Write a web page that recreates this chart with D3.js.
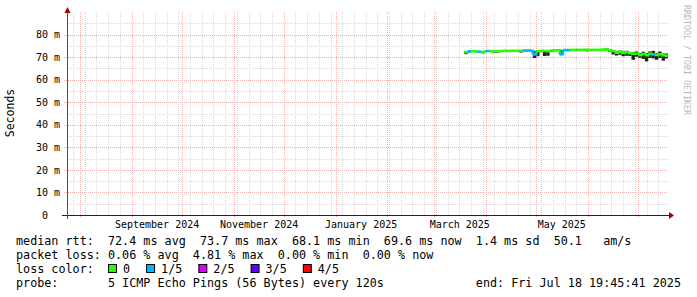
<!DOCTYPE html>
<html>
<head>
<meta charset="utf-8">
<script src="https://cdn.jsdelivr.net/npm/d3@7"></script>
<style>
  body { margin: 0; background: #fff; }
  text { font-family: "DejaVu Sans Mono", monospace; }
</style>
</head>
<body>
<svg id="chart"></svg>
<script>
// time window of the graph
let graphStart = new Date(2024, 6, 23, 19, 45, 41);
let graphEnd = new Date(2025, 6, 18, 19, 45, 41);

// samples, one every 2 days from this date
let sampleFirst = new Date(2025, 2, 18);

// median rtt (ms) per sample
let medianMs = [72.2, 72.6, 72.6, 72.5, 72.4, 72.1, 72.6, 72.7, 72.6, 72.5,
  72.5, 72.7, 72.8, 72.7, 72.8, 72.8, 72.8, 72.8, 72.9, 72.9,
  72.8, 71.2, 72.6, 72.8, 72.7, 72.6, 72.9, 73.0, 73.0, 71.4,
  73.1, 73.1, 73.2, 73.2, 73.2, 73.2, 73.2, 73.1, 73.2, 73.2,
  73.2, 73.2, 73.3, 73.5, 72.9, 72.6, 72.0, 72.3, 71.9, 72.2,
  71.7, 71.5, 71.6, 71.0, 71.4, 70.9, 71.5, 71.2, 71.0, 71.3,
  70.8, 70.6];

// smoke (lowest / highest ping) per sample
let smokeLoMs = [71.3, 72.0, 72.3, 72.2, 72.0, 71.9, 72.3, 72.4, 72.3, 71.9,
  72.0, 72.4, 72.5, 72.4, 72.5, 72.5, 72.5, 72.0, 72.6, 72.6,
  72.5, 69.6, 70.4, 72.2, 70.5, 70.6, 72.3, 72.7, 72.7, 70.8,
  72.8, 72.8, 72.9, 72.9, 72.9, 72.9, 72.9, 72.5, 72.9, 72.9,
  72.9, 72.9, 73.0, 73.0, 72.3, 71.2, 70.7, 71.0, 70.4, 70.6,
  70.5, 68.8, 70.2, 69.7, 69.2, 68.1, 69.6, 69.4, 68.8, 69.6,
  68.4, 69.4];
let smokeHiMs = [72.6, 72.9, 72.9, 72.8, 72.7, 72.5, 72.9, 73.0, 72.9, 72.8,
  72.8, 73.0, 73.1, 73.0, 73.1, 73.1, 73.1, 73.1, 73.2, 73.2,
  73.1, 72.8, 72.9, 73.1, 73.0, 72.9, 73.2, 73.3, 73.3, 73.2,
  73.4, 73.4, 73.5, 73.5, 73.5, 73.5, 73.5, 73.4, 73.5, 73.5,
  73.5, 73.5, 73.6, 73.9, 73.3, 73.0, 72.6, 72.9, 72.5, 72.8,
  72.3, 72.2, 72.5, 71.8, 72.4, 71.8, 72.5, 72.8, 71.9, 72.5,
  71.6, 71.6];

// lost pings (of 5) per sample
let lossCount = [0, 1, 0, 0, 1, 0, 0, 1, 0, 0,
  0, 0, 0, 0, 0, 0, 0, 0, 1, 1,
  1, 1, 0, 0, 0, 0, 0, 0, 0, 1,
  1, 1, 0, 0, 0, 0, 0, 0, 0, 0,
  0, 0, 0, 0, 0, 0, 0, 0, 0, 0,
  0, 0, 0, 0, 0, 0, 0, 1, 0, 0,
  0, 0];

let lossLabels = ["0", "1/5", "2/5", "3/5", "4/5"];
let lossColors = ["#26ff00", "#00b8ff", "#dd00ff", "#5e00ff", "#ff0000"];

let yTickValues = [0, 10, 20, 30, 40, 50, 60, 70, 80];
let monthLabels = [new Date(2024, 8, 1), new Date(2024, 10, 1), new Date(2025, 0, 1),
  new Date(2025, 2, 1), new Date(2025, 4, 1)];

let legendLines = [
  "median rtt:  72.4 ms avg  73.7 ms max  68.1 ms min  69.6 ms now  1.4 ms sd  50.1   am/s",
  "packet loss: 0.06 % avg  4.81 % max  0.00 % min  0.00 % now",
  "loss color:",
  "probe:       5 ICMP Echo Pings (56 Bytes) every 120s"
];
let endText = "end: Fri Jul 18 19:45:41 2025";

let W = 697, H = 297;
let plot = { left: 66, right: 668, top: 12, bottom: 215 };

let svg = d3.select("#chart").attr("width", W).attr("height", H);
svg.append("rect").attr("width", W).attr("height", H).attr("fill", "#fff");

let x = d3.scaleTime().domain([graphStart, graphEnd]).range([plot.left, plot.right]);
let y = d3.scaleLinear().domain([0, 90]).range([plot.bottom, plot.top]);

let dates = d3.timeDay.every(2).range(sampleFirst, graphEnd).slice(0, medianMs.length);
let samples = dates.map(function(d, i) {
  let next = i < dates.length - 1 ? dates[i + 1] : graphEnd;
  return { t0: d, t1: next, med: medianMs[i], lo: smokeLoMs[i], hi: smokeHiMs[i], loss: lossCount[i],
           nextMed: i < dates.length - 1 ? medianMs[i + 1] : medianMs[i] };
});

// grid
let minorColor = "#d9d9d9", majorColor = "#efb3b3";
let grid = svg.append("g");
y.ticks(18).filter(function(v) { return v % 10 != 0 && v < 90; }).forEach(function(v) {
  grid.append("line").attr("x1", plot.left + 1).attr("x2", plot.right)
    .attr("y1", Math.round(y(v)) + 0.5).attr("y2", Math.round(y(v)) + 0.5)
    .attr("stroke", minorColor).attr("stroke-dasharray", "1,1");
});
d3.timeWeek.range(graphStart, graphEnd).forEach(function(d) {
  grid.append("line").attr("x1", Math.round(x(d)) + 0.5).attr("x2", Math.round(x(d)) + 0.5)
    .attr("y1", plot.bottom).attr("y2", plot.top)
    .attr("stroke", minorColor).attr("stroke-dasharray", "1,1");
});
yTickValues.filter(function(v) { return v > 0; }).forEach(function(v) {
  grid.append("line").attr("x1", plot.left - 2).attr("x2", plot.right)
    .attr("y1", Math.round(y(v)) + 0.5).attr("y2", Math.round(y(v)) + 0.5)
    .attr("stroke", majorColor).attr("stroke-dasharray", "1,1");
});
d3.timeMonth.range(graphStart, graphEnd).forEach(function(d) {
  grid.append("line").attr("x1", Math.round(x(d)) + 0.5).attr("x2", Math.round(x(d)) + 0.5)
    .attr("y1", plot.bottom + 2).attr("y2", plot.top)
    .attr("stroke", majorColor).attr("stroke-dasharray", "1,1");
});

// smoke
svg.append("g").selectAll("rect").data(samples).enter().append("rect")
  .attr("x", function(d) { return x(d.t0); })
  .attr("width", function(d) { return x(d.t1) - x(d.t0); })
  .attr("y", function(d) { return y(d.hi); })
  .attr("height", function(d) { return y(d.lo) - y(d.hi); })
  .attr("fill", "#222");

// median, coloured by loss
let stepLine = d3.line()
  .x(function(p) { return x(p[0]); })
  .y(function(p) { return y(p[1]); })
  .curve(d3.curveStepAfter);
svg.append("g").selectAll("path").data(samples).enter().append("path")
  .attr("d", function(d) { return stepLine([[d.t0, d.med], [d.t1, d.nextMed]]); })
  .attr("fill", "none")
  .attr("stroke", function(d) { return lossColors[d.loss]; })
  .attr("stroke-width", 2.6);

// axes
let yAxis = d3.axisLeft(y).tickValues(yTickValues).tickSize(0).tickPadding(7)
  .tickFormat(function(v) { return v == 0 ? "0\u00a0\u00a0" : v + " m"; });
let yg = svg.append("g").attr("transform", "translate(" + (plot.left + 1) + ",0)").call(yAxis);
yg.select(".domain").remove();
yg.selectAll("text").attr("font-size", 10).attr("fill", "#000")
  .attr("font-family", "DejaVu Sans Mono");

let xAxis = d3.axisBottom(x)
  .tickValues(monthLabels.map(function(d) { return d3.timeDay.offset(d, 15); }))
  .tickSize(0).tickPadding(6)
  .tickFormat(d3.timeFormat("%B %Y"));
let xg = svg.append("g").attr("transform", "translate(0," + plot.bottom + ")").call(xAxis);
xg.select(".domain").remove();
xg.selectAll("text").attr("font-size", 10).attr("fill", "#000")
  .attr("font-family", "DejaVu Sans Mono");

svg.append("line").attr("x1", 62).attr("x2", 670).attr("y1", plot.bottom + 0.5).attr("y2", plot.bottom + 0.5)
  .attr("stroke", "#222");
svg.append("line").attr("x1", plot.left + 1.5).attr("x2", plot.left + 1.5).attr("y1", plot.bottom + 4).attr("y2", 10)
  .attr("stroke", "#555");
svg.append("path").attr("d", "M669,212L674,215.5L669,219Z").attr("fill", "#a00000");
svg.append("path").attr("d", "M64.5,13L67.5,7L70.5,13Z").attr("fill", "#a00000");

// unit label
svg.append("text").attr("transform", "translate(14,113) rotate(-90)")
  .attr("text-anchor", "middle").attr("font-size", 11.5).attr("fill", "#000").text("Seconds");

// watermark
svg.append("text").attr("transform", "translate(684,5) rotate(90)")
  .attr("font-size", 8.3).attr("fill", "#b8b8b8").text("RRDTOOL / TOBI OETIKER");

// legend
let legend = svg.append("g").attr("font-size", 11.76).attr("fill", "#000");
legendLines.forEach(function(s, i) {
  legend.append("text").attr("x", 16).attr("y", 245 + i * 14)
    .attr("xml:space", "preserve").style("white-space", "pre").text(s);
});
legend.append("text").attr("x", 681).attr("y", 287).attr("text-anchor", "end").text(endText);

let charW = 7.08;
let sx = 108;
lossLabels.forEach(function(lab, i) {
  legend.append("rect").attr("x", sx + 0.5).attr("y", 264.5).attr("width", 8).attr("height", 8)
    .attr("fill", lossColors[i]).attr("stroke", "#000");
  legend.append("text").attr("x", sx + 15).attr("y", 273).text(lab);
  sx += 15 + lab.length * charW + 16;
});
</script>
</body>
</html>
